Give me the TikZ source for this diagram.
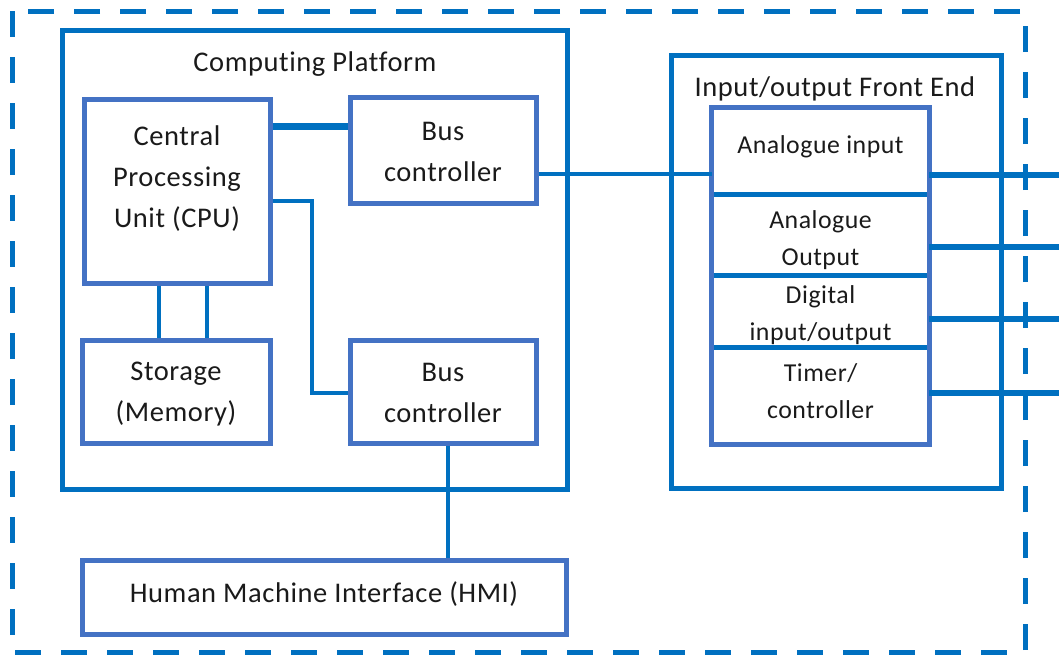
\documentclass[tikz,border=0pt]{standalone}
\usepackage{fontspec}
\setmainfont{Carlito}[Ligatures=NoCommon, LetterSpace=2.0]
\definecolor{lineblue}{HTML}{0070C0}
\definecolor{boxblue}{HTML}{4472C4}
\definecolor{txt}{HTML}{1A1A1A}
\begin{document}
\begin{tikzpicture}[x=1pt,y=-1pt,
  box/.style={draw=boxblue, line width=5pt, rectangle, inner sep=0pt},
  frame/.style={draw=lineblue, line width=5pt, rectangle, inner sep=0pt},
  cell/.style={rectangle, inner sep=0pt, minimum width=217pt},
  label/.style={inner sep=0pt, align=center, text=txt, font=\fontsize{28.5}{41}\selectfont},
  small/.style={inner sep=0pt, align=center, text=txt, font=\fontsize{25.8}{37.5}\selectfont},
  conn/.style={draw=lineblue, line width=4pt},
]
\useasboundingbox (0,0) rectangle (1059,657);
% outer dashed boundary
\draw[lineblue, line width=5pt, dash pattern=on 26pt off 20pt] (12,11) rectangle (1025,652);

% computing platform
\node[frame, minimum width=505pt, minimum height=459pt] (cp) at (314.5,259.5) {};
\node[label] (cptitle) at (315,64) {Computing Platform};
\node[box, minimum width=186pt, minimum height=184pt] (cpu) at (177,191) {};
\node[label] (cputext) at (177,179) {Central\\Processing\\Unit (CPU)};
\node[box, minimum width=186pt, minimum height=106pt] (bus1) at (443,150) {};
\node[label] (bus1text) at (443,151.5) {Bus\\controller};
\node[box, minimum width=188pt, minimum height=103pt] (stor) at (176,391.5) {};
\node[label] (stortext) at (176,394) {Storage\\(Memory)};
\node[box, minimum width=186pt, minimum height=103pt] (bus2) at (443,391.5) {};
\node[label] (bus2text) at (443,393) {Bus\\controller};
\node[box, minimum width=484pt, minimum height=74pt] (hmi) at (324,597) {};
\node[label] (hmitext) at (324,594) {Human Machine Interface (HMI)};

% I/O front end
\node[frame, minimum width=330pt, minimum height=433pt] (io) at (836,271.5) {};
\node[label] (iotitle) at (835,89) {Input/output Front End};
\node[cell, minimum height=86pt] (ai) at (820.5,151) {};
\node[cell, minimum height=81pt] (ao) at (820.5,234.5) {};
\node[cell, minimum height=72pt] (dio) at (820.5,311) {};
\node[cell, minimum height=97pt] (tc) at (820.5,395.5) {};
\node[small] (aitext) at (820.5,147) {Analogue input};
\node[small] (aotext) at (820.5,240) {Analogue\\Output};
\node[small] (diotext) at (820.5,315) {Digital\\input/output};
\node[small] (tctext) at (820.5,391) {Timer/\\controller};
\draw[lineblue, line width=5pt] (ai.south west) -- (ai.south east);
\draw[lineblue, line width=5pt] (ao.south west) -- (ao.south east);
\draw[lineblue, line width=5pt] (dio.south west) -- (dio.south east);
\draw[boxblue, line width=5pt] (ai.north west) rectangle (tc.south east);

% connectors
\draw[conn, line width=7pt] (cpu.east |- 0,126) -- (bus1.west |- 0,126);
\coordinate (k1) at (312,201);
\coordinate (k2) at (312,393);
\draw[conn, line width=3.5pt] (cpu.east |- k1) -- (k1) -- (k2) -- (bus2.west |- k2);
\draw[conn] (bus1.east |- 0,174) -- (ai.west |- 0,174);
\draw[conn, line width=3.5pt] (bus2.south -| 448,0) -- (hmi.north -| 448,0);
\draw[conn] (cpu.south -| 159,0) -- (stor.north -| 159,0);
\draw[conn] (cpu.south -| 207,0) -- (stor.north -| 207,0);
\coordinate (o1) at (1059,175);
\coordinate (o2) at (1059,247);
\coordinate (o3) at (1059,319);
\coordinate (o4) at (1059,393);
\draw[conn, line width=5.5pt] (ai.east |- o1) -- (o1);
\draw[conn, line width=5.5pt] (ai.east |- o2) -- (o2);
\draw[conn, line width=5.5pt] (ai.east |- o3) -- (o3);
\draw[conn, line width=5.5pt] (ai.east |- o4) -- (o4);
\end{tikzpicture}
\end{document}
